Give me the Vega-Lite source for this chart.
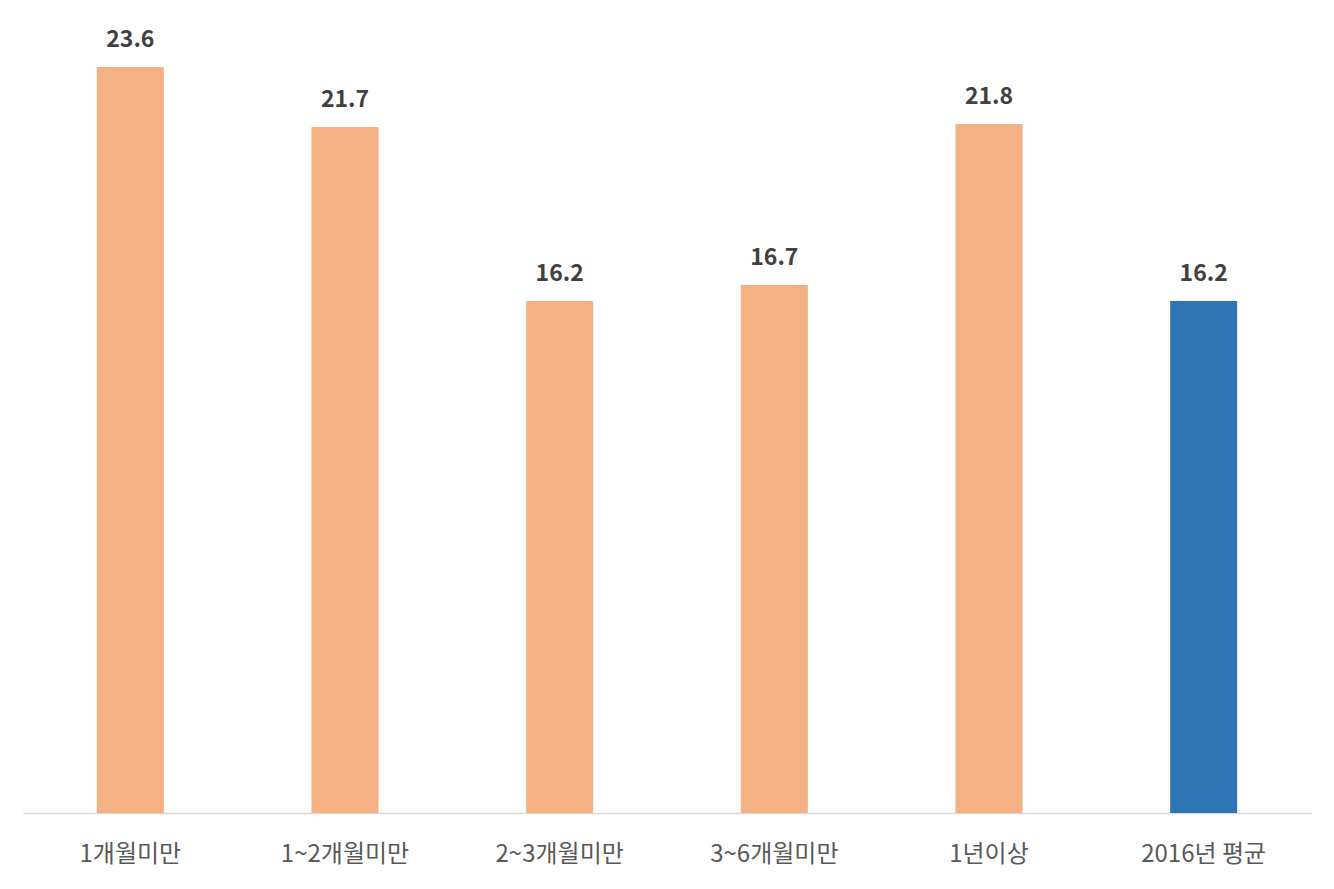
{
  "$schema": "https://vega.github.io/schema/vega-lite/v6.json",
  "width": 1288,
  "height": 813,
  "autosize": "none",
  "padding": {"left": 23, "top": 0, "right": 23, "bottom": 76},
  "background": "white",
  "data": {
    "values": [
      {"group": "1개월미만", "value": 23.6, "kind": "기간"},
      {"group": "1~2개월미만", "value": 21.7, "kind": "기간"},
      {"group": "2~3개월미만", "value": 16.2, "kind": "기간"},
      {"group": "3~6개월미만", "value": 16.7, "kind": "기간"},
      {"group": "1년이상", "value": 21.8, "kind": "기간"},
      {"group": "2016년 평균", "value": 16.2, "kind": "평균"}
    ]
  },
  "encoding": {
    "x": {
      "field": "group",
      "type": "nominal",
      "sort": null,
      "scale": {"paddingInner": 0, "paddingOuter": 0},
      "axis": {
        "title": null,
        "labelAngle": 0,
        "labelFont": "Noto Sans CJK KR",
        "labelFontSize": 24,
        "labelColor": "#595959",
        "labelPadding": 29,
        "ticks": false,
        "domainColor": "#d9d9d9",
        "domainWidth": 1.5
      }
    },
    "y": {
      "field": "value",
      "type": "quantitative",
      "scale": {"domain": [0, 25.72], "nice": false},
      "axis": null
    }
  },
  "layer": [
    {
      "mark": {"type": "bar", "width": 67},
      "encoding": {
        "color": {
          "field": "kind",
          "type": "nominal",
          "scale": {"domain": ["기간", "평균"], "range": ["#f4b183", "#2e75b6"]},
          "legend": null
        }
      }
    },
    {
      "mark": {
        "type": "text",
        "baseline": "alphabetic",
        "dy": -20,
        "font": "Noto Sans CJK KR",
        "fontSize": 23,
        "fontWeight": "bold",
        "color": "#404040"
      },
      "encoding": {
        "text": {"field": "value", "type": "quantitative", "format": ".1f"}
      }
    }
  ],
  "config": {
    "view": {"stroke": null}
  }
}
